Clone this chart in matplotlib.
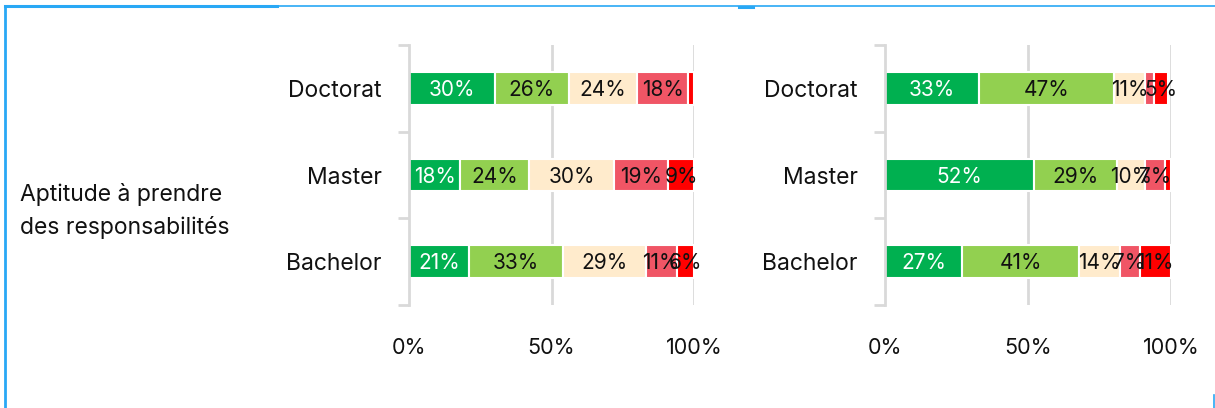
import matplotlib.pyplot as plt
import numpy as np

plt.rcParams['font.family'] = ['Inter', 'DejaVu Sans']

# Données : parts (%) par niveau de diplôme, de "très bien" à "insuffisant"
niveaux = ["Bachelor", "Master", "Doctorat"]
gauche = {
    "tres_bien": [21, 18, 30],
    "bien": [33, 24, 26],
    "moyen": [29, 30, 24],
    "faible": [11, 19, 18],
    "insuffisant": [6, 9, 2],
}
droite = {
    "tres_bien": [27, 52, 33],
    "bien": [41, 29, 47],
    "moyen": [14, 10, 11],
    "faible": [7, 7, 3],
    "insuffisant": [11, 2, 5],
}
couleurs = ["#00B050", "#92D050", "#FFEBCC", "#F05565", "#FF0000"]
couleurs_texte = ["white", "#111111", "#111111", "#111111", "#111111"]
ticks_x = [0, 50, 100]
critere = "Aptitude à prendre\ndes responsabilités"

W, H = 1215, 408
fig = plt.figure(figsize=(W / 100, H / 100), dpi=100)

# cadre bleu du panneau
fig.add_artist(plt.Line2D([5 / W, 5 / W], [0, 1 - 6 / H], color="#29A8F5", lw=2, transform=fig.transFigure))
fig.add_artist(plt.Line2D([5 / W, 277 / W], [1 - 6 / H, 1 - 6 / H], color="#29A8F5", lw=2.2, transform=fig.transFigure))
fig.add_artist(plt.Line2D([277 / W, 1], [1 - 6 / H, 1 - 6 / H], color="#29A8F5", lw=1.2, transform=fig.transFigure))
fig.add_artist(plt.Line2D([739 / W, 753 / W], [1 - 7 / H, 1 - 7 / H], color="#29A8F5", lw=2.2, transform=fig.transFigure))
fig.add_artist(plt.Line2D([1214 / W, 1214 / W], [0, 13 / H], color="#29A8F5", lw=1.2, transform=fig.transFigure))

fig.text(20 / W, 1 - 211 / H, critere, ha="left", va="center", fontsize=16.5,
         linespacing=1.6, color="#111111")

gris = "#D9D9D9"
bas = 1 - 305 / H
haut = 1 - 45 / H


def panneau(x0, x1, donnees):
    ax = fig.add_axes([x0 / W, bas, (x1 - x0) / W, haut - bas])
    y = np.arange(len(niveaux))
    debut = np.zeros(len(niveaux))
    for i, (cle, vals) in enumerate(donnees.items()):
        vals = np.array(vals, dtype=float)
        ax.barh(y, vals, left=debut, height=0.38, color=couleurs[i],
                edgecolor="white", linewidth=1.5, zorder=3)
        for yi, d, v in zip(y, debut, vals):
            if v >= 4:
                ax.text(d + v / 2, yi - 0.02, f"{v:.0f}%", ha="center", va="center",
                        fontsize=15, color=couleurs_texte[i], zorder=4)
        debut += vals

    ax.set_xlim(0, 100)
    ax.set_ylim(-0.5, len(niveaux) - 0.5)
    for s in ["top", "right", "bottom"]:
        ax.spines[s].set_visible(False)
    ax.spines["left"].set_color(gris)
    ax.spines["left"].set_linewidth(2)
    ax.spines["left"].set_zorder(5)

    for xv in ticks_x[1:]:
        ax.axvline(xv, color=gris, lw=2, zorder=1)

    ax.set_xticks(ticks_x)
    ax.set_xticklabels([f"{t}%" for t in ticks_x])
    ax.tick_params(axis="x", length=0, pad=24, labelsize=15.5, labelcolor="#111111")

    ax.set_yticks(y)
    ax.set_yticklabels(niveaux)
    ax.tick_params(axis="y", which="major", length=0, pad=19.5, labelsize=16.5, labelcolor="#111111")
    ax.set_yticks(np.arange(-0.5, len(niveaux)), minor=True)
    ax.tick_params(axis="y", which="minor", length=8, width=2, color=gris)
    ax.set_facecolor("none")
    return ax


panneau(409, 694, gauche)
panneau(885, 1171, droite)

fig.savefig("out.png", dpi=100)
